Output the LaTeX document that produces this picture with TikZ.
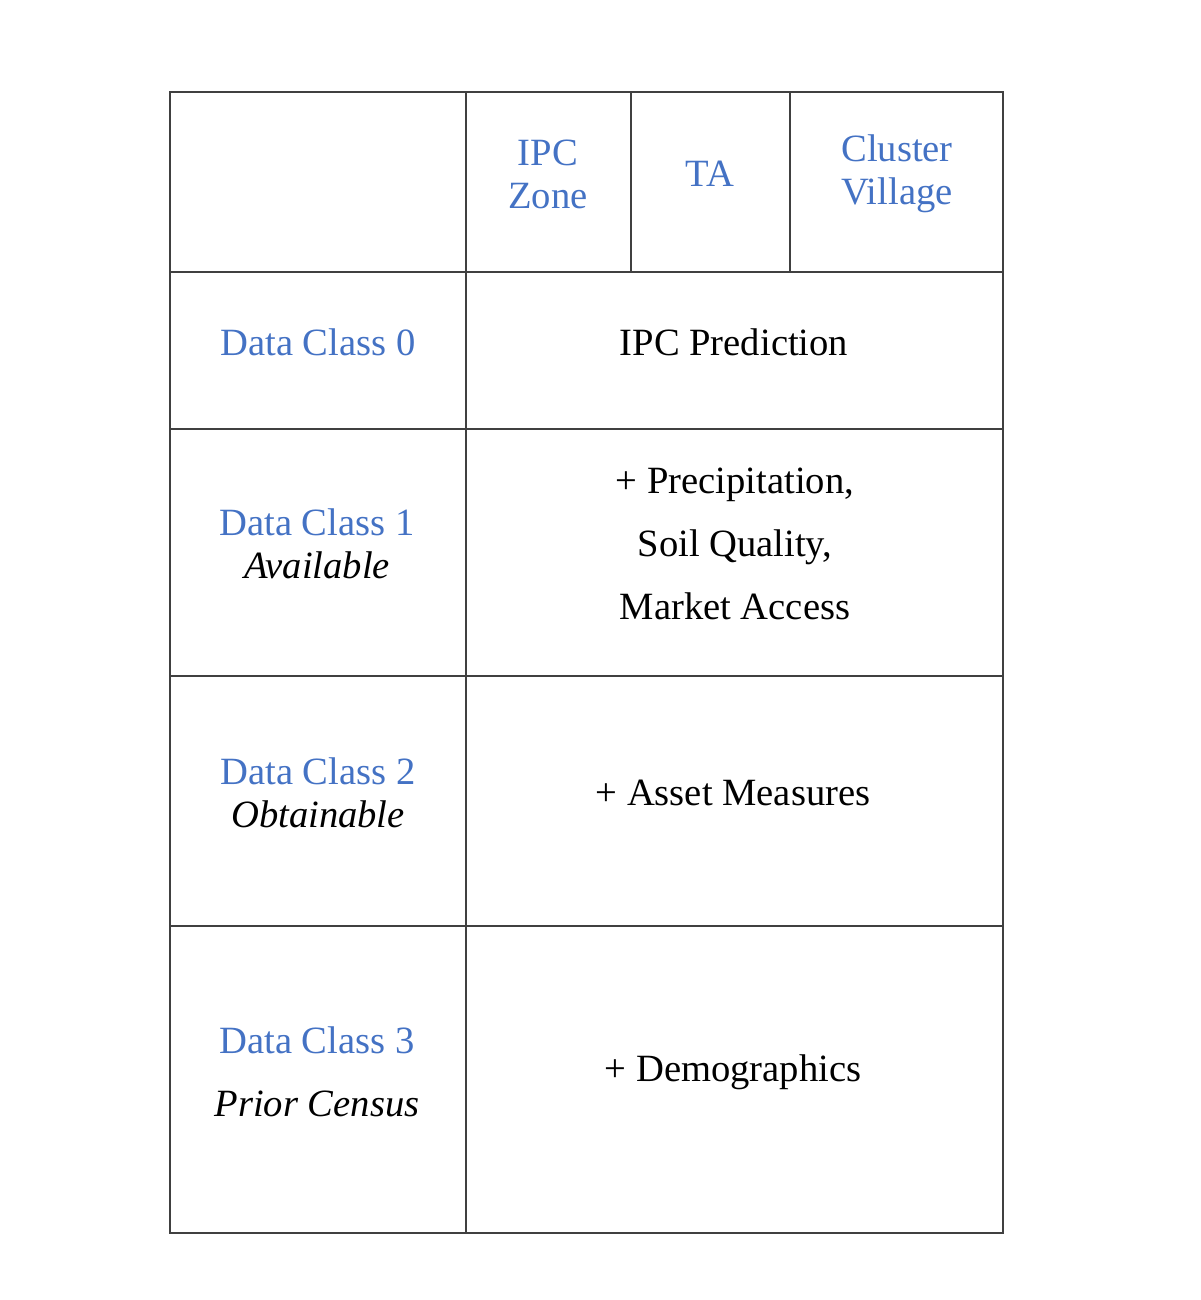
\documentclass[tikz,border=0pt]{standalone}
\usepackage{fontspec}
\setmainfont{Liberation Serif}
\definecolor{hdrblue}{RGB}{68,114,196}
\definecolor{rulegray}{RGB}{64,64,64}
\begin{document}
\begin{tikzpicture}[x=0.5pt,y=-0.5pt,
  cell/.style={font=\fontsize{19.3}{21.5}\selectfont, align=center, inner sep=0pt},
  bluetext/.style={cell, text=hdrblue},
  blacktext/.style={cell, text=black},
  grid/.style={draw=rulegray, line width=1pt}]
\useasboundingbox (0,0) rectangle (1200,1300);
% table frame and rules
\draw[grid] (170,92) rectangle (1003,1233);
\foreach \yy in {272,429,676,926} \draw[grid] (170,\yy) -- (1003,\yy);
\draw[grid] (466,92) -- (466,1233);
\draw[grid] (631,92) -- (631,272);
\draw[grid] (790,92) -- (790,272);
% header
\node[bluetext] (ipczone) at (548,174) {IPC\\Zone};
\node[bluetext] (ta) at (710,174) {TA};
\node[bluetext] (cluster) at (897,174) {Cluster\\Village};
% rows
\node[bluetext] (dc0) at (318,342) {Data Class 0};
\node[blacktext] (ipcpred) at (734,342) {IPC Prediction};
\node[cell] (dc1) at (317,544) {\textcolor{hdrblue}{Data Class 1}\\\textit{Available}};
\node[blacktext] (precip) at (735,544) {+ Precipitation,\\[10pt]Soil Quality,\\[10pt]Market Access};
\node[cell] (dc2) at (318,793) {\textcolor{hdrblue}{Data Class 2}\\\textit{Obtainable}};
\node[blacktext] (asset) at (733,793) {+ Asset Measures};
\node[cell] (dc3) at (317,1072) {\textcolor{hdrblue}{Data Class 3}\\[10pt]\textit{Prior Census}};
\node[blacktext] (demo) at (733,1072) {+ Demographics};
\end{tikzpicture}
\end{document}
